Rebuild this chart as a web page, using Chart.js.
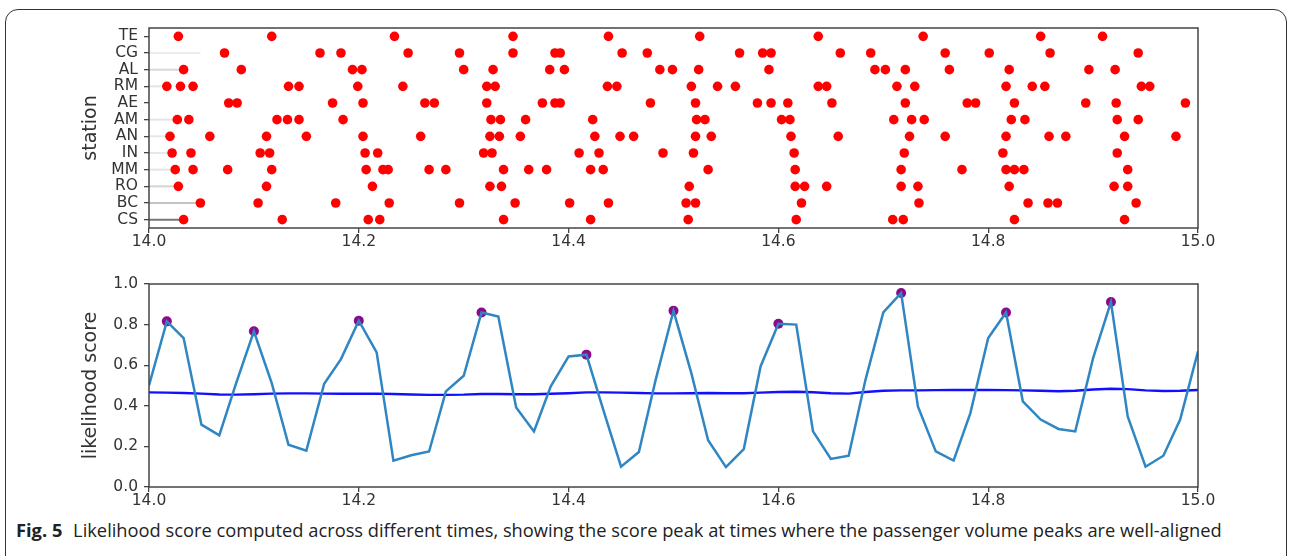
<!DOCTYPE html>
<html>
<head>
<meta charset="utf-8">
<script src="https://cdn.jsdelivr.net/npm/chart.js@4.4.1/dist/chart.umd.min.js"></script>
<style>
  html, body { margin: 0; padding: 0; background: #fff; }
  #page { position: relative; width: 1290px; height: 556px; overflow: hidden; background: #fff; }
  #frame {
    position: absolute; left: 5px; top: 9px; width: 1282px; height: 560px;
    border: 1.3px solid #333; border-radius: 13px; box-sizing: border-box;
  }
  canvas { position: absolute; left: 0; }
  #stations { top: 0; }
  #scores { top: 256px; }
  #caption {
    position: absolute; left: 16px; top: 517px; white-space: nowrap;
    font-family: 'Open Sans', 'Noto Sans', sans-serif; font-size: 18.3px; color: #222;
  }
  #caption b { font-weight: 700; margin-right: 6px; }
</style>
</head>
<body>
<div id="page">
  <div id="frame"></div>
  <canvas id="stations" width="1290" height="252"></canvas>
  <canvas id="scores" width="1290" height="255"></canvas>
  <div id="caption"><b>Fig. 5</b> Likelihood score computed across different times, showing the score peak at times where the passenger volume peaks are well-aligned</div>
</div>
<script>
// station order, bottom to top
const STATIONS = ['CS', 'BC', 'RO', 'MM', 'IN', 'AN', 'AM', 'AE', 'RM', 'AL', 'CG', 'TE'];

// times (hours) when each station had a volume peak
const CS_TIMES = [14.033, 14.127, 14.209, 14.220, 14.338, 14.421, 14.514, 14.617, 14.709, 14.719, 14.825, 14.930];
const BC_TIMES = [14.049, 14.104, 14.178, 14.229, 14.296, 14.349, 14.401, 14.438, 14.512, 14.521, 14.622, 14.734, 14.838, 14.857, 14.866, 14.941];
const RO_TIMES = [14.028, 14.112, 14.213, 14.325, 14.336, 14.515, 14.616, 14.625, 14.646, 14.717, 14.733, 14.820, 14.920, 14.933];
const MM_TIMES = [14.025, 14.042, 14.075, 14.117, 14.207, 14.223, 14.228, 14.267, 14.283, 14.338, 14.362, 14.379, 14.421, 14.433, 14.533, 14.616, 14.717, 14.775, 14.817, 14.825, 14.834, 14.933];
const IN_TIMES = [14.022, 14.040, 14.106, 14.115, 14.206, 14.218, 14.319, 14.327, 14.410, 14.429, 14.490, 14.519, 14.615, 14.720, 14.814, 14.923];
const AN_TIMES = [14.020, 14.058, 14.112, 14.150, 14.204, 14.259, 14.325, 14.334, 14.354, 14.425, 14.449, 14.462, 14.521, 14.536, 14.612, 14.657, 14.725, 14.759, 14.817, 14.858, 14.874, 14.930, 14.979];
const AM_TIMES = [14.027, 14.038, 14.122, 14.132, 14.143, 14.185, 14.326, 14.335, 14.359, 14.423, 14.522, 14.530, 14.603, 14.611, 14.710, 14.727, 14.739, 14.822, 14.835, 14.923, 14.943];
const AE_TIMES = [14.076, 14.084, 14.175, 14.204, 14.263, 14.272, 14.322, 14.375, 14.387, 14.392, 14.478, 14.521, 14.580, 14.593, 14.609, 14.651, 14.721, 14.780, 14.788, 14.825, 14.893, 14.922, 14.988];
const RM_TIMES = [14.017, 14.030, 14.042, 14.133, 14.143, 14.199, 14.242, 14.322, 14.330, 14.437, 14.446, 14.517, 14.542, 14.559, 14.638, 14.646, 14.713, 14.730, 14.817, 14.842, 14.854, 14.946, 14.954];
const AL_TIMES = [14.033, 14.088, 14.194, 14.203, 14.300, 14.328, 14.382, 14.396, 14.487, 14.499, 14.524, 14.591, 14.692, 14.702, 14.721, 14.763, 14.820, 14.896, 14.921];
const CG_TIMES = [14.072, 14.163, 14.183, 14.247, 14.296, 14.347, 14.387, 14.392, 14.451, 14.475, 14.563, 14.585, 14.593, 14.659, 14.688, 14.759, 14.801, 14.859, 14.943];
const TE_TIMES = [14.028, 14.117, 14.234, 14.347, 14.438, 14.525, 14.638, 14.738, 14.850, 14.909];

// faint lead-in lines from the axis to the first peak (end time per station)
const LEAD_END = [14.033, 14.049, 14.029, 14.025, 14.022, 14.020, 14.027, null, 14.017, 14.033, 14.049, null];

// likelihood score, sampled once a minute
const TIMES = [14.000, 14.017, 14.033, 14.050, 14.067, 14.083, 14.100, 14.117, 14.133, 14.150,
  14.167, 14.183, 14.200, 14.217, 14.233, 14.250, 14.267, 14.283, 14.300, 14.317,
  14.333, 14.350, 14.367, 14.383, 14.400, 14.417, 14.433, 14.450, 14.467, 14.483,
  14.500, 14.517, 14.533, 14.550, 14.567, 14.583, 14.600, 14.617, 14.633, 14.650,
  14.667, 14.683, 14.700, 14.717, 14.733, 14.750, 14.767, 14.783, 14.800, 14.817,
  14.833, 14.850, 14.867, 14.883, 14.900, 14.917, 14.933, 14.950, 14.967, 14.983, 15.000];
const SCORE = [0.50, 0.816, 0.734, 0.307, 0.254, 0.51, 0.767, 0.512, 0.208, 0.179,
  0.509, 0.63, 0.819, 0.663, 0.13, 0.156, 0.175, 0.471, 0.548, 0.86,
  0.84, 0.392, 0.274, 0.496, 0.643, 0.652, 0.381, 0.10, 0.172, 0.528,
  0.868, 0.561, 0.23, 0.098, 0.187, 0.594, 0.804, 0.80, 0.274, 0.138,
  0.154, 0.528, 0.86, 0.956, 0.397, 0.175, 0.13, 0.364, 0.734, 0.86,
  0.422, 0.332, 0.286, 0.274, 0.635, 0.911, 0.348, 0.10, 0.154, 0.332, 0.668];
const MEAN_SCORE = [0.466, 0.465, 0.463, 0.460, 0.456, 0.455, 0.457, 0.460, 0.461, 0.461,
  0.460, 0.459, 0.459, 0.460, 0.458, 0.456, 0.454, 0.454, 0.455, 0.458,
  0.458, 0.457, 0.457, 0.459, 0.462, 0.466, 0.466, 0.465, 0.463, 0.461,
  0.461, 0.462, 0.463, 0.462, 0.462, 0.465, 0.468, 0.469, 0.467, 0.462,
  0.460, 0.468, 0.474, 0.476, 0.476, 0.477, 0.478, 0.478, 0.478, 0.477,
  0.476, 0.474, 0.472, 0.474, 0.480, 0.484, 0.482, 0.476, 0.473, 0.474, 0.478];
const PEAK_INDEX = [1, 6, 12, 19, 25, 30, 36, 43, 49, 55];

const X_TICKS = [14.0, 14.2, 14.4, 14.6, 14.8, 15.0];
const SCORE_TICKS = [0.0, 0.2, 0.4, 0.6, 0.8, 1.0];

// styles
const LEAD_SHADE = ['#777', '#c4c4c4', '#d4d4d4', '#e4e4e4', '#e8e8e8', '#e8e8e8', '#e4e4e4', '#fff', '#e4e4e4', '#d8d8d8', '#ececec', '#fff'];
const TICK_FONT = { family: 'DejaVu Sans', size: 15.5 };
const TITLE_FONT = { family: 'DejaVu Sans', size: 19 };
const TEXT_COLOR = '#333';
const AXIS_COLOR = '#444';

Chart.defaults.animation = false;
Chart.defaults.responsive = false;
Chart.defaults.devicePixelRatio = 1;
Chart.defaults.plugins.legend.display = false;
Chart.defaults.plugins.tooltip.enabled = false;

const boxPlugin = {
  id: 'box',
  afterDraw(chart) {
    const { ctx, chartArea } = chart;
    ctx.save();
    ctx.strokeStyle = AXIS_COLOR;
    ctx.lineWidth = 1.5;
    ctx.strokeRect(chartArea.left, chartArea.top, chartArea.right - chartArea.left, chartArea.bottom - chartArea.top);
    ctx.restore();
  },
};

function xAxis() {
  return {
    type: 'linear',
    min: 14,
    max: 15,
    afterBuildTicks(scale) {
      scale.ticks = X_TICKS.map((value) => ({ value }));
    },
    afterFit(scale) {
      scale.height = 24;
    },
    ticks: {
      color: TEXT_COLOR,
      font: TICK_FONT,
      padding: 0,
      maxRotation: 0,
      autoSkip: false,
      callback: (value) => Number(value).toFixed(1),
    },
    grid: { drawOnChartArea: false, tickLength: 5, color: AXIS_COLOR, lineWidth: 1.3 },
    border: { display: false },
  };
}

function yAxis(title, min, max, ticks, label) {
  return {
    type: 'linear',
    min,
    max,
    afterBuildTicks(scale) {
      scale.ticks = ticks.map((value) => ({ value }));
    },
    afterFit(scale) {
      scale.width = 69;
    },
    ticks: {
      color: TEXT_COLOR,
      font: TICK_FONT,
      padding: 6,
      autoSkip: false,
      callback: label,
    },
    title: { display: true, text: title, color: TEXT_COLOR, font: TITLE_FONT, padding: 0 },
    grid: { drawOnChartArea: false, tickLength: 5, color: AXIS_COLOR, lineWidth: 1.3 },
    border: { display: false },
  };
}

const LAYOUT = { padding: { left: 80, right: 92, top: 28, bottom: 0 } };

// top panel: peaks per station
const stationTimes = [CS_TIMES, BC_TIMES, RO_TIMES, MM_TIMES, IN_TIMES, AN_TIMES, AM_TIMES, AE_TIMES, RM_TIMES, AL_TIMES, CG_TIMES, TE_TIMES];
const peakPoints = [];
stationTimes.forEach((times, row) => {
  times.forEach((t) => peakPoints.push({ x: t, y: row }));
});

const leadDatasets = LEAD_END.map((end, row) => ({
  data: end === null ? [] : [{ x: 14, y: row }, { x: end, y: row }],
  showLine: true,
  borderColor: LEAD_SHADE[row],
  borderWidth: 2,
  pointRadius: 0,
  order: 5,
}));

new Chart(document.getElementById('stations'), {
  type: 'scatter',
  data: {
    datasets: [
      ...leadDatasets,
      {
        data: peakPoints,
        backgroundColor: '#ff0000',
        borderWidth: 0,
        pointRadius: 4.8,
        order: 1,
      },
    ],
  },
  options: {
    layout: LAYOUT,
    scales: {
      x: xAxis(),
      y: yAxis('station', -0.5, 11.5, STATIONS.map((_, i) => i), (value) => STATIONS[value]),
    },
  },
  plugins: [boxPlugin],
});

// bottom panel: likelihood score
const scorePoints = TIMES.map((t, i) => ({ x: t, y: SCORE[i] }));
const meanPoints = TIMES.map((t, i) => ({ x: t, y: MEAN_SCORE[i] }));
const peakMarks = PEAK_INDEX.map((i) => ({ x: TIMES[i], y: SCORE[i] }));

new Chart(document.getElementById('scores'), {
  type: 'scatter',
  data: {
    datasets: [
      {
        data: scorePoints,
        showLine: true,
        borderColor: '#2f86c3',
        borderWidth: 2.5,
        pointRadius: 0,
        tension: 0,
        order: 1,
      },
      {
        data: meanPoints,
        showLine: true,
        borderColor: '#1010ff',
        borderWidth: 2.4,
        pointRadius: 0,
        tension: 0,
        order: 2,
      },
      {
        data: peakMarks,
        backgroundColor: '#8a0a8a',
        borderWidth: 0,
        pointRadius: 5,
        order: 3,
      },
    ],
  },
  options: {
    layout: LAYOUT,
    scales: {
      x: xAxis(),
      y: yAxis('likelihood score', 0, 1, SCORE_TICKS, (value) => Number(value).toFixed(1)),
    },
  },
  plugins: [boxPlugin],
});
</script>
</body>
</html>
